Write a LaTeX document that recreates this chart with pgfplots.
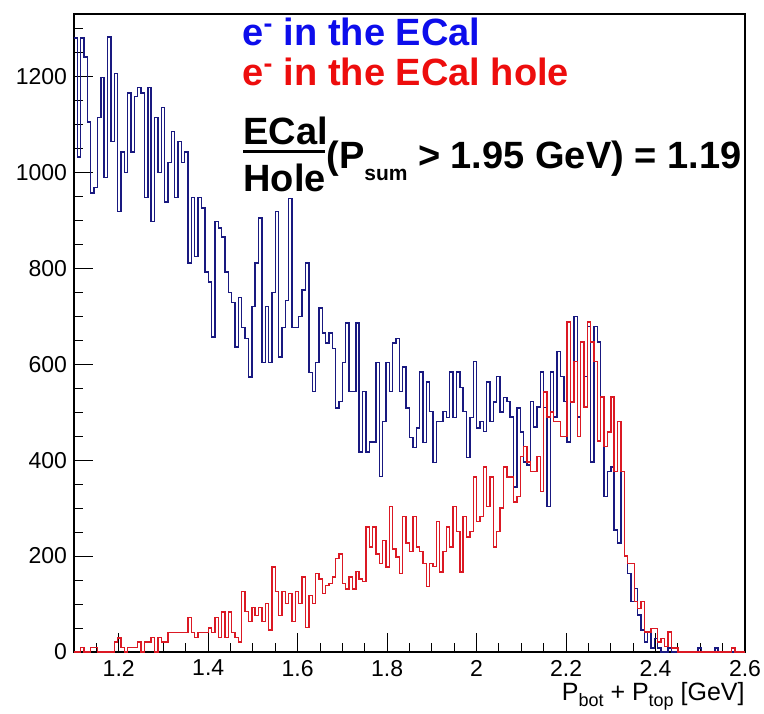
\documentclass[border=0pt]{standalone}
\usepackage{fontspec}
\setmainfont{Liberation Sans}
\usepackage{pgfplots}
\usepackage{pgfplotstable}
\pgfplotsset{compat=1.18}
\definecolor{histblue}{rgb}{0.10,0.10,0.50}
\definecolor{histred}{rgb}{0.86,0.10,0.14}
\definecolor{txtblue}{rgb}{0.05,0.05,0.92}
\definecolor{txtred}{rgb}{0.93,0.05,0.05}

\pgfplotstableread{
x blue red
1.1000 1280 0
1.1075 1032 0
1.1150 1280 10
1.1225 1240 0
1.1300 1105 0
1.1375 957 10
1.1450 968 10
1.1525 1114 0
1.1600 1198 0
1.1675 989 0
1.1750 1282 0
1.1825 1064 0
1.1900 1206 21
1.1975 918 29
1.2050 1042 10
1.2125 1000 0
1.2200 1165 10
1.2275 1042 10
1.2350 1158 10
1.2425 1177 21
1.2500 1165 0
1.2575 947 21
1.2650 1177 21
1.2725 897 30
1.2800 1114 0
1.2875 1000 30
1.2950 1135 21
1.3025 938 21
1.3100 1021 41
1.3175 1085 41
1.3250 947 41
1.3325 1064 41
1.3400 1021 41
1.3475 1042 41
1.3550 811 72
1.3625 947 41
1.3700 824 30
1.3775 947 41
1.3850 926 41
1.3925 792 41
1.4000 771 50
1.4075 657 41
1.4150 897 72
1.4225 884 30
1.4300 865 83
1.4375 792 30
1.4450 749 83
1.4525 728 41
1.4600 636 30
1.4675 739 21
1.4750 676 126
1.4825 654 84
1.4900 573 63
1.4975 720 93
1.5050 811 76
1.5125 905 93
1.5200 604 63
1.5275 720 101
1.5350 604 46
1.5425 749 177
1.5500 918 126
1.5575 615 76
1.5650 676 126
1.5725 733 101
1.5800 946 122
1.5875 676 63
1.5950 676 126
1.6025 699 101
1.6100 755 156
1.6175 811 51
1.6250 583 118
1.6325 543 101
1.6400 604 164
1.6475 717 152
1.6550 665 122
1.6625 644 139
1.6700 665 143
1.6775 633 156
1.6850 509 195
1.6925 522 204
1.7000 604 143
1.7075 686 131
1.7150 543 156
1.7225 543 131
1.7300 686 168
1.7375 417 152
1.7450 543 147
1.7525 417 261
1.7600 438 219
1.7675 438 261
1.7750 604 204
1.7825 366 185
1.7900 480 232
1.7975 604 177
1.8050 543 303
1.8125 644 215
1.8200 654 198
1.8275 543 164
1.8350 594 282
1.8425 509 227
1.8500 447 209
1.8575 426 282
1.8650 467 219
1.8725 584 209
1.8800 437 185
1.8875 563 136
1.8950 501 185
1.9025 395 178
1.9100 481 272
1.9175 481 167
1.9250 501 209
1.9325 489 261
1.9400 584 219
1.9475 489 303
1.9550 584 251
1.9625 552 167
1.9700 501 282
1.9775 406 240
1.9850 489 251
1.9925 606 365
2.0000 467 272
2.0075 481 282
2.0150 460 386
2.0225 563 303
2.0300 481 365
2.0375 521 219
2.0450 574 251
2.0525 500 300
2.0600 531 386
2.0675 522 365
2.0750 490 365
2.0825 344 313
2.0900 509 324
2.0975 459 407
2.1050 396 428
2.1125 390 396
2.1200 522 376
2.1275 469 376
2.1350 511 407
2.1425 584 334
2.1500 510 542
2.1575 303 490
2.1650 584 500
2.1725 490 480
2.1800 626 480
2.1875 574 449
2.1950 522 449
2.2025 438 688
2.2100 522 521
2.2175 699 605
2.2250 490 449
2.2325 646 646
2.2400 574 511
2.2475 678 688
2.2550 396 646
2.2625 678 605
2.2700 646 440
2.2775 532 532
2.2850 324 428
2.2925 376 459
2.3000 386 532
2.3075 254 376
2.3150 227 480
2.3225 376 376
2.3300 200 200
2.3375 164 185
2.3450 105 185
2.3525 132 105
2.3600 77 91
2.3675 46 105
2.3750 21 42
2.3825 42 42
2.3900 8 49
2.3975 28 49
2.4050 8 21
2.4125 0 28
2.4200 0 11
2.4275 8 42
2.4350 0 8
2.4425 0 8
2.4500 0 0
2.4575 0 0
2.4650 0 0
2.4725 0 0
2.4800 0 0
2.4875 0 0
2.4950 8 0
2.5025 0 0
2.5100 0 0
2.5175 0 0
2.5250 0 0
2.5325 8 0
2.5400 0 0
2.5475 0 0
2.5550 0 0
2.5625 0 0
2.5700 0 8
2.5775 0 0
2.5850 0 0
2.5925 0 0
2.6000 0 0
}\histdata

\begin{document}
\begin{tikzpicture}
\begin{axis}[
  scale only axis, width=335.5pt, height=319pt,
  xmin=1.1, xmax=2.6, ymin=0, ymax=1330,
  axis line style={line width=0.6pt},
  xtick={1.2,1.4,1.6,1.8,2.0,2.2,2.4,2.6},
  xticklabels={1.2,1.4,1.6,1.8,2,2.2,2.4,2.6},
  minor xtick={1.15,1.25,1.3,1.35,1.45,1.5,1.55,1.65,1.7,1.75,1.85,1.9,1.95,2.05,2.1,2.15,2.25,2.3,2.35,2.45,2.5,2.55},
  ytick={0,200,400,600,800,1000,1200},
  yticklabels={0,200,400,600,800,1000,1200},
  minor ytick={50,100,150,250,300,350,450,500,550,650,700,750,850,900,950,1050,1100,1150,1250,1300},
  xtick pos=left, ytick pos=left, tick align=inside,
  major tick length=9.5pt, minor tick length=4.75pt,
  tick style={black, line width=0.5pt},
  ticklabel style={font=\fontsize{11.5}{13}\selectfont},
  xticklabel style={yshift=-0.5pt},
  /pgf/number format/assume math mode=true,
  clip=false,
]
\addplot[const plot mark left, histblue, line width=0.7pt] table[x=x,y=blue]{\histdata};
\addplot[const plot mark left, histred, line width=0.7pt] table[x=x,y=red]{\histdata};

\node[anchor=base west, inner sep=0, text=txtblue, font=\bfseries\fontsize{19}{22}\selectfont]
  at (axis cs:1.4756,1264.6) {e\textsuperscript{-} in the ECal};
\node[anchor=base west, inner sep=0, text=txtred, font=\bfseries\fontsize{19}{22}\selectfont]
  at (axis cs:1.4756,1181.3) {e\textsuperscript{-} in the ECal hole};
\node[anchor=base west, inner sep=0, font=\bfseries\fontsize{19}{22}\selectfont]
  at (axis cs:1.4778,1058.3) {ECal};
\draw[line width=1.4pt] (axis cs:1.4778,1043.75) -- (axis cs:1.6611,1043.75);
\node[anchor=base west, inner sep=0, font=\bfseries\fontsize{19}{22}\selectfont]
  at (axis cs:1.4778,960.4) {Hole};
\node[anchor=base west, inner sep=0, font=\bfseries\fontsize{19}{22}\selectfont]
  at (axis cs:1.6633,1008.3) {(P\raisebox{-6pt}{\fontsize{10.5}{11}\selectfont sum} > 1.95 GeV) = 1.19};
\node[anchor=base east, inner sep=0, font=\fontsize{12.5}{14}\selectfont]
  at (axis cs:2.6,-102) {P\raisebox{-3pt}{\fontsize{9}{10}\selectfont bot} + P\raisebox{-3pt}{\fontsize{9}{10}\selectfont top} [GeV]};
\end{axis}
\pgfresetboundingbox
\path[use as bounding box] ([shift={(-37pt,-30.5pt)}]current axis.south west) rectangle ([shift={(9.5pt,7pt)}]current axis.north east);
\end{tikzpicture}
\end{document}
